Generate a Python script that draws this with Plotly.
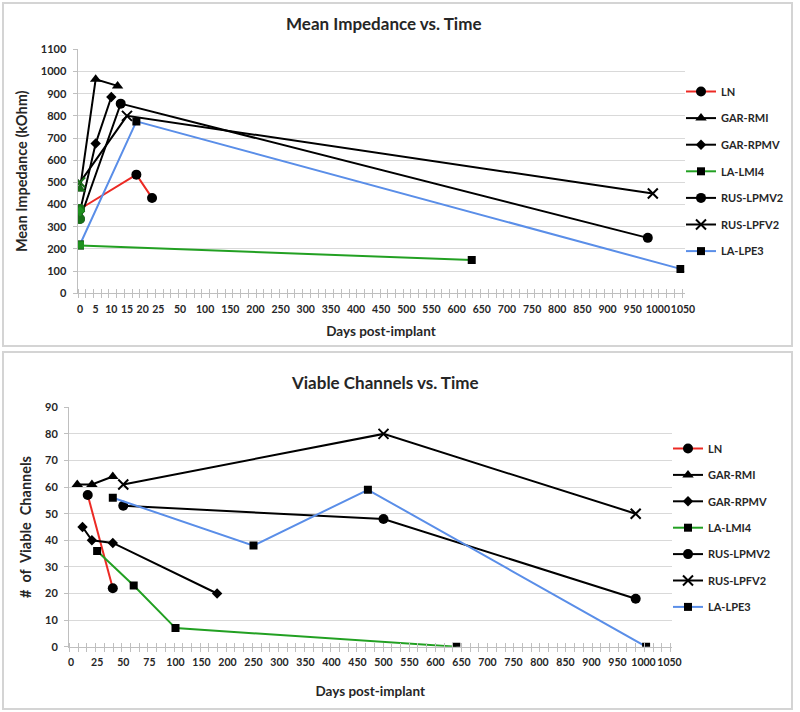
import numpy as np
import plotly.graph_objects as go

# ---------------- data ----------------
SERIES = ["LN", "GAR-RMI", "GAR-RPMV", "LA-LMI4", "RUS-LPMV2", "RUS-LPFV2", "LA-LPE3"]

# Mean impedance (kOhm) vs days post-implant
imp_LN_days = [0, 18, 23]
imp_LN_kohm = [380, 535, 430]
imp_GAR_RMI_days = [0, 5, 12]
imp_GAR_RMI_kohm = [470, 965, 935]
imp_GAR_RPMV_days = [0, 5, 10]
imp_GAR_RPMV_kohm = [370, 675, 885]
imp_LA_LMI4_days = [0, 630]
imp_LA_LMI4_kohm = [215, 150]
imp_RUS_LPMV2_days = [0, 13, 980]
imp_RUS_LPMV2_kohm = [335, 855, 250]
imp_RUS_LPFV2_days = [0, 15, 990]
imp_RUS_LPFV2_kohm = [500, 800, 450]
imp_LA_LPE3_days = [0, 18, 1045]
imp_LA_LPE3_kohm = [220, 775, 110]

# Viable channels vs days post-implant
via_LN_days = [16, 40]
via_LN_count = [57, 22]
via_GAR_RMI_days = [6, 20, 40]
via_GAR_RMI_count = [61, 61, 64]
via_GAR_RPMV_days = [11, 20, 40, 180]
via_GAR_RPMV_count = [45, 40, 39, 20]
via_LA_LMI4_days = [25, 60, 100, 640]
via_LA_LMI4_count = [36, 23, 7, 0]
via_RUS_LPMV2_days = [50, 500, 985]
via_RUS_LPMV2_count = [53, 48, 18]
via_RUS_LPFV2_days = [50, 500, 985]
via_RUS_LPFV2_count = [61, 80, 50]
via_LA_LPE3_days = [40, 250, 470, 1005]
via_LA_LPE3_count = [56, 38, 59, 0]

top_tick_days = [0, 5, 10, 15, 20, 25] + list(range(50, 1051, 50))
bot_tick_days = [0, 25, 50, 75] + list(range(100, 1051, 50))
imp_ticks = list(range(0, 1101, 100))
via_ticks = list(range(0, 91, 10))

# ---------------- non-linear (piecewise) day axes ----------------
TOP_SCALE_DAYS = [0, 25, 50, 1050]
TOP_SCALE_POS = [80, 158.3, 180, 683]
BOT_SCALE_DAYS = [0, 100, 1050]
BOT_SCALE_POS = [71, 175.5, 669.5]


def top_x(d):
    return np.interp(d, TOP_SCALE_DAYS, TOP_SCALE_POS)


def bot_x(d):
    return np.interp(d, BOT_SCALE_DAYS, BOT_SCALE_POS)


# ---------------- styles ----------------
FONT = "Lato"
TXT = "#262626"
GRID = "#d9d9d9"
AXC = "#bfbfbf"
RED = "#ec2a24"
GREEN = "#22a022"
BLUE = "#5a8ee8"
BLACK = "#000000"

STYLE = {
    "LN": (RED, "circle", 10),
    "GAR-RMI": (BLACK, "triangle-up", 10),
    "GAR-RPMV": (BLACK, "diamond", 8),
    "LA-LMI4": (GREEN, "square", 8),
    "RUS-LPMV2": (BLACK, "circle", 10),
    "RUS-LPFV2": (BLACK, "x-thin", 10),
    "LA-LPE3": (BLUE, "square", 8),
}

top_data = {
    "LN": (imp_LN_days, imp_LN_kohm),
    "GAR-RMI": (imp_GAR_RMI_days, imp_GAR_RMI_kohm),
    "GAR-RPMV": (imp_GAR_RPMV_days, imp_GAR_RPMV_kohm),
    "LA-LMI4": (imp_LA_LMI4_days, imp_LA_LMI4_kohm),
    "RUS-LPMV2": (imp_RUS_LPMV2_days, imp_RUS_LPMV2_kohm),
    "RUS-LPFV2": (imp_RUS_LPFV2_days, imp_RUS_LPFV2_kohm),
    "LA-LPE3": (imp_LA_LPE3_days, imp_LA_LPE3_kohm),
}
bot_data = {
    "LN": (via_LN_days, via_LN_count),
    "GAR-RMI": (via_GAR_RMI_days, via_GAR_RMI_count),
    "GAR-RPMV": (via_GAR_RPMV_days, via_GAR_RPMV_count),
    "LA-LMI4": (via_LA_LMI4_days, via_LA_LMI4_count),
    "RUS-LPMV2": (via_RUS_LPMV2_days, via_RUS_LPMV2_count),
    "RUS-LPFV2": (via_RUS_LPFV2_days, via_RUS_LPFV2_count),
    "LA-LPE3": (via_LA_LPE3_days, via_LA_LPE3_count),
}


def marker_for(symbol, size, color):
    if symbol == "x-thin":
        return dict(symbol=symbol, size=size, color=color, line=dict(width=2, color=color))
    return dict(symbol=symbol, size=size, color=color, line=dict(width=0))


fig = go.Figure()

for name in SERIES:
    col, sym, sz = STYLE[name]
    d, v = top_data[name]
    fig.add_trace(go.Scatter(
        x=top_x(d), y=v, name=name, mode="lines+markers",
        line=dict(color=col, width=2), marker=marker_for(sym, sz, BLACK),
        xaxis="x", yaxis="y", legend="legend", legendgroup="t" + name,
        customdata=d, hovertemplate=name + ": day %{customdata}, %{y} kOhm<extra></extra>"))

# day-0 (implant day) markers drawn in green on top
fig.add_trace(go.Scatter(
    x=[top_x(top_data[n][0][0]) for n in SERIES],
    y=[top_data[n][1][0] for n in SERIES],
    mode="markers", showlegend=False, xaxis="x", yaxis="y", hoverinfo="skip",
    marker=dict(symbol=[STYLE[n][1] for n in SERIES], size=[STYLE[n][2] for n in SERIES],
                color=GREEN,
                line=dict(color=GREEN, width=[2 if STYLE[n][1] == "x-thin" else 0 for n in SERIES]))))

for name in SERIES:
    col, sym, sz = STYLE[name]
    d, v = bot_data[name]
    fig.add_trace(go.Scatter(
        x=bot_x(d), y=v, name=name, mode="lines+markers",
        line=dict(color=col, width=2), marker=marker_for(sym, sz, BLACK),
        xaxis="x2", yaxis="y2", legend="legend2", legendgroup="b" + name,
        customdata=d, hovertemplate=name + ": day %{customdata}, %{y} channels<extra></extra>"))

# helper traces so the overlay axes (inner half of the cross tick marks) are drawn
fig.add_trace(go.Scatter(x=[300], y=[0], xaxis="x3", yaxis="y", mode="markers",
                         marker=dict(opacity=0), showlegend=False, hoverinfo="skip"))
fig.add_trace(go.Scatter(x=[300], y=[0], xaxis="x4", yaxis="y2", mode="markers",
                         marker=dict(opacity=0), showlegend=False, hoverinfo="skip"))

W, H = 800, 712
tfont = dict(family=FONT, size=10.5, color=TXT, weight="bold")
yfont = dict(family=FONT, size=11, color=TXT, weight="bold")
atitle = dict(family=FONT, size=13.5, color=TXT, weight="bold")
lfont = dict(family=FONT, size=11, color=TXT, weight="bold")

top_minor = list(np.linspace(78, 682, 79))
bot_minor = list(np.linspace(69.5, 670.5, 70))

TOP_XR = [77.5, 684.5]
BOT_XR = [69, 671.5]


def px_dom(a, b, total):
    return [a / total, b / total]


def py_dom(top, bottom):
    return [1 - bottom / H, 1 - top / H]


fig.update_layout(
    width=W, height=H, margin=dict(l=0, r=0, t=0, b=0, autoexpand=False),
    paper_bgcolor="white", plot_bgcolor="white",
    font=dict(family=FONT, color=TXT),
    xaxis=dict(domain=px_dom(TOP_XR[0], TOP_XR[1], W), range=TOP_XR, anchor="y",
               tickmode="array", tickvals=list(top_x(top_tick_days)),
               ticktext=[str(t) for t in top_tick_days], ticks="", tickfont=tfont,
               tickangle=0, ticklabelstandoff=6,
               showgrid=False, zeroline=False, showline=True, linecolor=AXC, linewidth=1,
               minor=dict(tickmode="array", tickvals=top_minor, ticks="outside", ticklen=4,
                          tickcolor=AXC, tickwidth=1, showgrid=False),
               title=dict(text="Days post-implant", font=atitle, standoff=12)),
    xaxis3=dict(overlaying="x", range=TOP_XR, anchor="y", showticklabels=False, ticks="",
                showgrid=False, zeroline=False, showline=False, tickmode="array", tickvals=[],
                minor=dict(tickmode="array", tickvals=top_minor, ticks="inside", ticklen=4,
                           tickcolor=AXC, tickwidth=1, showgrid=False)),
    yaxis=dict(domain=py_dom(49.3, 293.3), range=[0, 1100], tickmode="array", tickvals=imp_ticks,
               ticks="outside", ticklen=4, tickcolor=AXC, tickfont=yfont, ticklabelstandoff=4,
               showgrid=True, gridcolor=GRID, gridwidth=1, zeroline=False,
               showline=True, linecolor=AXC, linewidth=1, anchor="x",
               title=dict(text="Mean Impedance (kOhm)", font=dict(family=FONT, size=14.5, color=TXT, weight="bold"),
                          standoff=9)),
    xaxis2=dict(domain=px_dom(BOT_XR[0], BOT_XR[1], W), range=BOT_XR, anchor="y2",
                tickmode="array", tickvals=list(bot_x(bot_tick_days)),
                ticktext=[str(t) for t in bot_tick_days], ticks="", tickfont=tfont,
                tickangle=0, ticklabelstandoff=6,
                showgrid=False, zeroline=False, showline=True, linecolor=AXC, linewidth=1,
                minor=dict(tickmode="array", tickvals=bot_minor, ticks="outside", ticklen=4,
                           tickcolor=AXC, tickwidth=1, showgrid=False),
                title=dict(text="Days post-implant", font=atitle, standoff=19)),
    xaxis4=dict(overlaying="x2", range=BOT_XR, anchor="y2", showticklabels=False, ticks="",
                showgrid=False, zeroline=False, showline=False, tickmode="array", tickvals=[],
                minor=dict(tickmode="array", tickvals=bot_minor, ticks="inside", ticklen=4,
                           tickcolor=AXC, tickwidth=1, showgrid=False)),
    yaxis2=dict(domain=py_dom(407.3, 646.7), range=[0, 90], tickmode="array", tickvals=via_ticks,
                ticks="outside", ticklen=4, tickcolor=AXC, tickfont=yfont, ticklabelstandoff=4,
                showgrid=True, gridcolor=GRID, gridwidth=1, zeroline=False,
                showline=True, linecolor=AXC, linewidth=1, anchor="x2",
                title=dict(text="#\u00a0 of\u00a0 Viable\u00a0 Channels",
                           font=dict(family=FONT, size=14.5, color=TXT, weight="bold"), standoff=9)),
    legend=dict(x=681 / W, y=1 - 77 / H, xanchor="left", yanchor="top", font=lfont,
                tracegroupgap=7.6, bgcolor="rgba(0,0,0,0)", itemwidth=30),
    legend2=dict(x=668 / W, y=1 - 434 / H, xanchor="left", yanchor="top", font=lfont,
                 tracegroupgap=7.4, bgcolor="rgba(0,0,0,0)", itemwidth=30),
    annotations=[
        dict(text="Mean Impedance vs. Time", x=383 / W, y=1 - 23.5 / H, xref="paper", yref="paper",
             showarrow=False, xanchor="center", yanchor="middle",
             font=dict(family=FONT, size=17, color=TXT, weight="bold")),
        dict(text="Viable Channels vs. Time", x=385 / W, y=1 - 382 / H, xref="paper", yref="paper",
             showarrow=False, xanchor="center", yanchor="middle",
             font=dict(family=FONT, size=17, color=TXT, weight="bold")),
    ],
    shapes=[
        dict(type="rect", xref="paper", yref="paper", x0=3 / W, x1=792 / W,
             y0=1 - 346 / H, y1=1 - 3 / H, line=dict(color="#d4d4d4", width=2), layer="below"),
        dict(type="rect", xref="paper", yref="paper", x0=3 / W, x1=792 / W,
             y0=1 - 709 / H, y1=1 - 352 / H, line=dict(color="#d4d4d4", width=2), layer="below"),
    ],
    showlegend=True,
)

fig.write_html("out.html", config={"displayModeBar": False},
               post_script="document.body.style.margin='0px';")
